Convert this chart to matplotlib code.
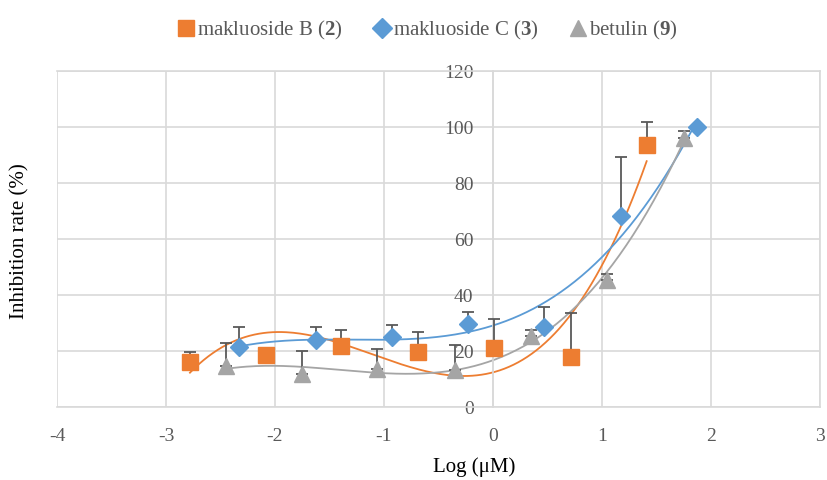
import matplotlib.pyplot as plt
import numpy as np

plt.rcParams['font.family'] = ['Liberation Serif', 'DejaVu Serif']
plt.rcParams['mathtext.fontset'] = 'custom'
plt.rcParams['mathtext.bf'] = 'Liberation Serif:bold'
plt.rcParams['mathtext.rm'] = 'Liberation Serif'
plt.rcParams['axes.unicode_minus'] = False

# datos
x_b = [-2.78, -2.08, -1.39, -0.69, 0.01, 0.72, 1.41]
y_b = [16.1, 18.6, 21.8, 19.6, 21.0, 17.9, 93.6]
e_b = [3.5, 0.0, 5.7, 7.2, 10.4, 15.7, 8.2]

x_c = [-2.33, -1.62, -0.93, -0.23, 0.47, 1.17, 1.87]
y_c = [21.4, 23.9, 25.0, 29.6, 28.6, 68.2, 100.0]
e_c = [7.2, 4.7, 4.3, 4.4, 7.1, 21.1, 0.0]

x_t = [-2.45, -1.75, -1.06, -0.35, 0.35, 1.05, 1.75]
y_t = [14.6, 11.8, 13.6, 13.2, 25.4, 45.4, 96.0]
e_t = [8.3, 8.2, 7.1, 8.9, 2.1, 2.1, 2.6]

series = [
    (x_b, y_b, e_b, '#ED7D31', 's', 11, r'makluoside B ($\mathbf{2}$)'),
    (x_c, y_c, e_c, '#5B9BD5', 'D', 9, r'makluoside C ($\mathbf{3}$)'),
    (x_t, y_t, e_t, '#A5A5A5', '^', 11, r'betulin ($\mathbf{9}$)'),
]

fig = plt.figure(figsize=(8.27, 4.8), dpi=100)
ax = fig.add_axes([0.0689, 0.152, 0.9226, 0.700])

for xs, ys, es, col, mk, ms, lab in series:
    xs = np.array(xs)
    ys = np.array(ys)
    # linea de tendencia polinomica (orden 3)
    coef = np.polyfit(xs, ys, 3)
    xx = np.linspace(xs.min(), xs.max(), 200)
    ax.plot(xx, np.polyval(coef, xx), color=col, lw=1.3, zorder=2)
    ax.errorbar(xs, ys, yerr=[np.zeros(len(es)), es], fmt='none',
                ecolor='#595959', elinewidth=1.3, capsize=4.5, capthick=1.3, zorder=3)
    ax.plot(xs, ys, linestyle='none', marker=mk, markersize=ms, color=col,
            label=lab, zorder=4)

ax.set_xlim(-4, 3)
ax.set_ylim(0, 120)
ax.set_xticks(range(-4, 4))
ax.set_yticks(range(0, 121, 20))
ax.grid(True, color='#d9d9d9', lw=1.2)
ax.set_axisbelow(True)
for s in ax.spines.values():
    s.set_color('#d9d9d9')
    s.set_linewidth(1.2)
ax.spines['left'].set_position(('data', 0))
ax.tick_params(length=0, labelsize=14, labelcolor='#595959')
ax.tick_params(axis='x', pad=15)
ax.tick_params(axis='y', pad=14)

ax.set_xlabel('Log (μM)', fontsize=15)
ax.set_ylabel('Inhibition rate (%)', fontsize=15)
ax.xaxis.set_label_coords(0.547, -0.15)
ax.yaxis.set_label_coords(-0.036, 0.494, transform=ax.transAxes)

leg = fig.legend(loc='upper center', bbox_to_anchor=(0.515, 1.0), ncol=3, frameon=False,
                 fontsize=15, handletextpad=0.0, columnspacing=1.3, handlelength=1.1,
                 markerscale=1.1)
for t in leg.get_texts():
    t.set_color('#595959')

fig.savefig('out.png', dpi=100)
